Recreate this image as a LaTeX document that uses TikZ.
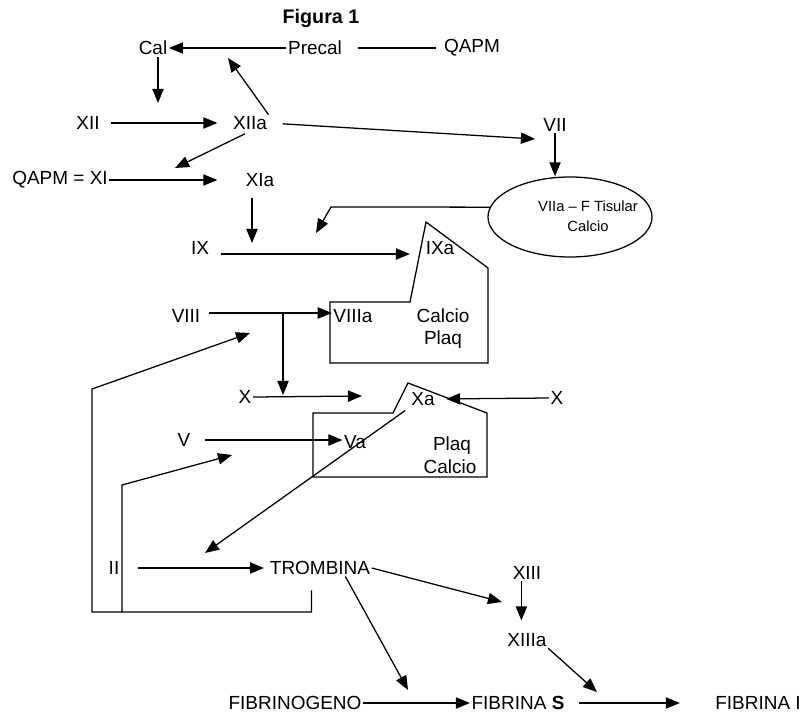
\documentclass[tikz,border=0pt]{standalone}
\usepackage{fontspec}
\setmainfont{Liberation Sans}
\usetikzlibrary{arrows.meta, shapes.geometric}

\begin{document}
\begin{tikzpicture}[
    x=0.025cm, y=-0.025cm,
    lbl/.style={font=\fontsize{13.5}{15}\selectfont, inner sep=1pt},
    arrow/.style={-{Triangle[length=10pt, width=8pt]}, line width=0.9pt},
    link/.style={line width=0.9pt},
    plate/.style={line width=0.9pt},
]
\useasboundingbox (0,0) rectangle (800,722);

% Title
\node[lbl, font=\fontsize{14}{16}\selectfont\bfseries] (title) at (321,18) {Figura 1};

% Calicreina
\node[lbl] (cal) at (153,48) {Cal};
\node[lbl] (precal) at (315,48) {Precal};
\node[lbl] (qapm) at (472,48) {QAPM};
\coordinate (calend) at (158,103);
\coordinate (calhit) at (228,58);

\draw[arrow] (precal.west) -- (cal.east);
\draw[link, shorten <=10pt, shorten >=4.7pt] (precal.east) -- (qapm.west);
\draw[arrow] (cal.south -| calend) -- (calend);

% XII
\node[lbl] (xii) at (88,123) {XII};
\node[lbl] (xiia) at (250,123) {XIIa};
\node[lbl] (vii) at (555,125) {VII};
\coordinate (viihit) at (535,139);
\coordinate (xihit) at (175,168);

\draw[arrow, shorten <=6.7pt, shorten >=10pt] (xii.east) -- (xiia.west);
\draw[arrow] (xiia.north east) -- (calhit);
\draw[arrow, shorten <=10pt] (xiia.east) -- (viihit);
\draw[arrow, shorten <=4pt] (xiia.south) -- (xihit);

% XI
\node[lbl] (qapmxi) at (60,180) {QAPM = XI};
\node[lbl] (xia) at (260,180) {XIa};
\draw[arrow, shorten >=19pt] (qapmxi.east) -- (xia.west);

% Tissue factor
\node[draw, ellipse, line width=0.9pt, minimum width=4.1cm, minimum height=2cm] (tis) at (570,217) {};
\node[lbl, font=\fontsize{10.5}{14}\selectfont, align=center] (tistxt) at (588,216) {VIIa – F Tisular\\Calcio};
\draw[arrow] (vii.south) -- (vii.south |- tis.north);

% IX
\node[lbl] (ix) at (200,248) {IX};
\coordinate (xiaend) at (252,243);
\coordinate (ixhit) at (410,254);
\coordinate (tiscorner) at (331,207);
\coordinate (tishit) at (316,233);
\draw[arrow, shorten <=7pt] (xia.south -| xiaend) -- (xiaend);
\draw[arrow, shorten <=7pt] (ix.east |- ixhit) -- (ixhit);
\draw[arrow] (tis.173) -- (tiscorner) -- (tishit);

% IXa complex
\draw[plate] (426,222) -- (488,268) -- (488,363) -- (330,363) -- (330,302) -- (410,302) -- cycle;
\node[lbl] (ixa) at (440,248) {IXa};
\node[lbl] (viiia) at (353,316) {VIIIa};
\node[lbl] (calcio1) at (443,316) {Calcio};
\node[lbl] (plaq1) at (443,340) {Plaq};

% VIII
\node[lbl] (viii) at (186,316) {VIII};
\coordinate (jviii) at (283,313);
\coordinate (jx) at (283,395);
\draw[arrow, shorten <=5pt] (viii.east |- jviii) -- (viiia.west |- jviii);
\draw[arrow] (jviii) -- (jx);

% X
\node[lbl] (xl) at (245,397) {X};
\node[lbl] (xa) at (423,399) {Xa};
\node[lbl] (xr) at (557,398) {X};
\coordinate (xhit) at (362,396);
\draw[arrow] (xl.east) -- (xhit);
\draw[arrow, shorten >=7pt] (xr.west) -- (xa.east);

% Xa complex
\draw[plate] (408,383) -- (487,413) -- (487,477) -- (313,477) -- (313,413) -- (393,413) -- cycle;
\node[lbl] (va) at (355,442) {Va};
\node[lbl] (plaq2) at (452,446) {Plaq};
\node[lbl] (calcio2) at (450,467) {Calcio};

% V
\node[lbl] (v) at (184,440) {V};
\draw[arrow, shorten <=9pt] (v.east) -- (va.west |- v.east);

% Xa towards II
\coordinate (xaend) at (205,553);
\draw[arrow, shorten <=4pt] (xa.south west) -- (xaend);

% II
\node[lbl] (ii) at (114,568) {II};
\node[lbl] (trombina) at (320,568) {TROMBINA};
\draw[arrow, shorten <=12pt, shorten >=3pt] (ii.east) -- (trombina.west);

% feedback loops
\coordinate (loopl) at (92,612);
\coordinate (loopc) at (92,389);
\coordinate (loophit) at (250,333);
\coordinate (innerb) at (122,612);
\coordinate (innerc) at (122,485);
\coordinate (innerhit) at (232,455);
\draw[arrow, shorten <=10pt] ([xshift=-6pt]trombina.south) |- (loopl) -- (loopc) -- (loophit);
\draw[arrow] (innerb) -- (innerc) -- (innerhit);

% XIII
\node[lbl] (xiii) at (527,573) {XIII};
\node[lbl] (xiiia) at (527,640) {XIIIa};
\coordinate (xiiihit) at (502,602);
\draw[arrow] (trombina.east) -- (xiiihit);
\draw[arrow, shorten >=8pt] ([xshift=-4pt]xiii.south) -- ([xshift=-4pt]xiiia.north);

% Fibrin
\node[lbl] (fibrinogeno) at (295,703) {FIBRINOGENO};
\node[lbl] (fibrinas) at (518,703) {FIBRINA \textbf{S}};
\node[lbl] (fibrinai) at (758,703) {FIBRINA I};
\coordinate (fghit) at (408,690);
\coordinate (fshit) at (597,692);
\draw[arrow] ([xshift=18pt]trombina.south) -- (fghit);
\draw[arrow] (xiiia.south east) -- (fshit);
\draw[arrow] (fibrinogeno.east) -- (fibrinas.west);
\draw[arrow, shorten <=9pt, shorten >=24pt] (fibrinas.east) -- (fibrinai.west);

\end{tikzpicture}
\end{document}
